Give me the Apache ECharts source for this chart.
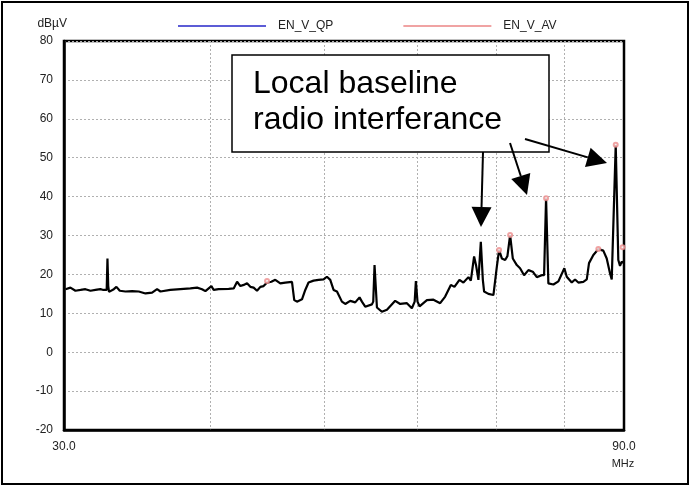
<!DOCTYPE html>
<html><head><meta charset="utf-8">
<script src="https://cdn.jsdelivr.net/npm/echarts@6/dist/echarts.min.js"></script>
<style>html,body{margin:0;padding:0;background:#fff}#c{width:691px;height:486px}</style>
</head><body><div id="c"></div>
<script>
// Measured trace (frequency in MHz, level in dBµV)
const freqMHz = [30.09,30.38,30.68,30.99,31.29,31.60,31.91,32.22,32.41,32.62,
32.67,32.72,32.77,32.86,33.08,33.25,33.47,33.84,34.29,34.74,
35.20,35.66,36.01,36.25,36.96,37.70,38.44,38.95,39.33,39.59,
40.06,40.24,40.63,41.44,41.85,42.13,42.40,42.68,42.96,43.24,
43.52,43.81,44.10,44.38,44.68,45.06,45.41,45.86,46.31,46.92,
47.13,47.38,47.85,48.16,48.47,48.95,49.43,49.92,50.25,50.58,
50.91,51.25,51.75,52.09,52.60,53.12,53.57,53.82,54.17,54.35,
54.89,55.03,55.17,55.43,55.97,56.53,57.45,58.02,58.79,59.36,
59.69,59.83,60.02,60.26,61.14,61.93,62.75,63.37,64.08,64.53,
65.17,65.68,66.33,66.64,67.07,67.34,67.64,67.96,68.23,68.40,
68.98,69.66,69.89,70.13,70.44,70.82,71.28,71.60,71.98,72.36,
72.93,73.40,73.98,74.61,75.25,75.85,76.59,76.94,77.24,77.59,
78.36,79.13,80.06,80.44,81.23,81.76,82.29,83.10,83.66,84.03,
84.75,85.58,86.42,87.00,87.56,87.86,88.55,89.00,89.30,89.60,
89.90];
const traceDb = [16.2,16.6,15.8,16.0,16.2,15.8,16.0,16.2,16.0,16.0,
24.1,17.0,15.5,15.6,16.2,16.8,15.8,15.6,15.7,15.6,
15.1,15.3,16.2,15.6,16.0,16.2,16.4,16.6,16.2,15.7,
17.0,16.0,16.2,16.3,16.4,18.1,17.0,17.3,17.7,16.8,
16.6,15.8,16.8,17.0,17.9,18.1,18.6,17.7,17.9,18.1,
13.4,13.0,13.6,16.0,17.9,18.4,18.6,18.7,19.4,18.6,
16.0,15.6,13.0,12.4,13.2,12.8,14.1,13.0,11.7,11.7,
12.3,13.0,22.4,11.5,10.4,10.9,13.2,12.4,12.6,11.3,
13.0,18.3,13.0,11.8,13.4,13.5,12.6,14.3,17.3,16.8,
18.6,17.9,19.3,18.4,24.6,22.2,18.6,28.4,18.6,15.6,
15.0,14.7,15.0,22.0,26.3,24.1,23.7,24.7,30.1,24.1,
22.4,21.6,19.8,21.1,20.7,19.3,19.8,19.8,39.6,17.7,
17.4,18.2,21.6,19.4,17.9,18.7,17.9,18.1,18.7,22.9,
25.0,26.5,26.1,24.1,20.3,18.7,53.3,23.7,22.2,23.3,
23.0];
// Average detector marks
const avFreqMHz = [44.68, 70.44, 71.98, 77.24, 85.58, 88.55, 89.75];
const avDb = [18.3, 26.3, 30.1, 39.6, 26.5, 53.3, 27.0];
// Quasi-peak marks (none visible)
const qpFreqMHz = [];
const qpDb = [];
// Axis settings
const xMinMHz = 30, xMaxMHz = 90;
const xGridMHz = [40, 50, 60, 70, 80];
const xLabelMHz = [30, 90];
const yMin = -20, yMax = 80, yStep = 10;

const L = Math.log10;
const pairs = (fs, vs) => fs.map((f, i) => [L(f), vs[i]]);

function arrowEls(x1, y1, x2, y2) {
  const dx = x2 - x1, dy = y2 - y1, len = Math.hypot(dx, dy), ux = dx / len, uy = dy / len;
  const hl = 20, hw = 10;
  const bx = x2 - ux * hl, by = y2 - uy * hl;
  return [
    {type: 'line', z: 100, shape: {x1: x1, y1: y1, x2: bx, y2: by}, style: {stroke: '#000', lineWidth: 2}},
    {type: 'polygon', z: 100, shape: {points: [[x2, y2], [bx - uy * hw, by + ux * hw], [bx + uy * hw, by - ux * hw]]}, style: {fill: '#000'}}
  ];
}

const chart = echarts.init(document.getElementById('c'), null, {renderer: 'canvas'});
const font = '"Liberation Sans", Arial, sans-serif';
chart.setOption({
  animation: false,
  backgroundColor: '#fff',
  textStyle: {fontFamily: font},
  grid: {left: 64, right: 67, top: 41, bottom: 56, show: true, borderColor: '#000', borderWidth: 2.5, backgroundColor: 'transparent'},
  legend: {
    data: ['EN_V_QP', 'EN_V_AV'],
    left: 173, top: 15,
    icon: 'rect', itemWidth: 88, itemHeight: 2, itemGap: 70,
    textStyle: {fontSize: 12, color: '#222', fontFamily: font, padding: [0, 0, 0, 7]}
  },
  xAxis: {
    type: 'value', min: L(xMinMHz), max: L(xMaxMHz),
    name: 'MHz', nameLocation: 'end', nameGap: -1,
    nameTextStyle: {fontSize: 11, color: '#222', align: 'center', verticalAlign: 'top', padding: [28, 0, 0, 0]},
    axisLine: {show: true, onZero: false, lineStyle: {color: '#000', width: 2.5}},
    axisTick: {show: false, customValues: xGridMHz.map(L)},
    axisLabel: {customValues: xLabelMHz.map(L), fontSize: 12, color: '#222', margin: 11,
      formatter: v => Math.pow(10, v).toFixed(1)},
    splitLine: {show: true, lineStyle: {color: '#b0b0b0', type: [2, 2], width: 1}}
  },
  yAxis: {
    type: 'value', min: yMin, max: yMax, interval: yStep,
    name: 'dBµV', nameLocation: 'end', nameGap: 11,
    nameTextStyle: {fontSize: 12, color: '#222', align: 'right', padding: [0, -3, 0, 0]},
    axisLine: {show: true, onZero: false, lineStyle: {color: '#000', width: 2.5}},
    axisTick: {show: false},
    axisLabel: {fontSize: 12, color: '#222', margin: 11},
    splitLine: {show: true, lineStyle: {color: '#b0b0b0', type: [2, 2], width: 1}}
  },
  series: [
    {name: 'Trace', type: 'line', data: pairs(freqMHz, traceDb), showSymbol: false, symbol: 'none',
      lineStyle: {color: '#000', width: 2.2}, itemStyle: {color: '#000'}, z: 3},
    {name: 'EN_V_QP', type: 'line', data: pairs(qpFreqMHz, qpDb), color: '#5c5cd6',
      lineStyle: {width: 0}, symbol: 'emptyCircle', symbolSize: 3, z: 4},
    {name: 'EN_V_AV', type: 'scatter', data: pairs(avFreqMHz, avDb), color: '#ec8c8c',
      symbol: 'emptyCircle', symbolSize: 4, itemStyle: {borderWidth: 1}, z: 5}
  ],
  graphic: [
    {type: 'rect', z: -1, silent: true, shape: {x: 2, y: 2, width: 686, height: 482}, style: {fill: 'none', stroke: '#000', lineWidth: 2}},
    {type: 'rect', z: 100, shape: {x: 232, y: 55, width: 317, height: 97}, style: {fill: '#fff', stroke: '#000', lineWidth: 1.5}},
    {type: 'text', z: 101, x: 253, y: 66, style: {text: 'Local baseline\nradio interferance', font: '32px ' + font, fill: '#000', lineHeight: 36}},
    ...arrowEls(483, 152, 481, 227),
    ...arrowEls(510, 143, 527, 195),
    ...arrowEls(525, 139, 607, 163)
  ]
});
</script></body></html>
